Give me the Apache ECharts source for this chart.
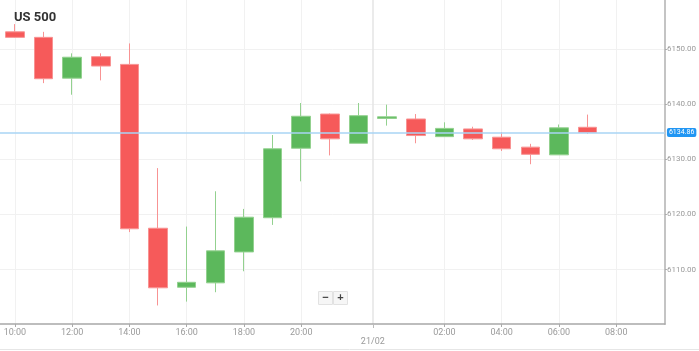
<!DOCTYPE html>
<html>
<head>
<meta charset="utf-8">
<title>US 500</title>
<script src="https://cdn.jsdelivr.net/npm/echarts@6/dist/echarts.min.js"></script>
<style>
  html, body { margin: 0; padding: 0; background: #fff; }
  #main { width: 699px; height: 351px; }
</style>
</head>
<body>
<div id="main"></div>
<script>
// hourly candles, 20/02 10:00 -> 21/02 07:00 (no 23:00 bar)
const hours = ['10:00', '11:00', '12:00', '13:00', '14:00', '15:00', '16:00', '17:00', '18:00', '19:00', '20:00', '21:00', '22:00',
  '00:00', '01:00', '02:00', '03:00', '04:00', '05:00', '06:00', '07:00']
const opens = [6153.1, 6152.1, 6144.7, 6148.6, 6147.2, 6117.5, 6106.8, 6107.6, 6113.2, 6119.4, 6132.0, 6138.2, 6132.9,
  6137.4, 6137.3, 6134.1, 6135.5, 6134.0, 6132.2, 6130.8, 6135.8]
const closes = [6152.1, 6144.6, 6148.5, 6146.9, 6117.4, 6106.7, 6107.7, 6113.4, 6119.5, 6131.9, 6137.8, 6133.7, 6137.9,
  6137.7, 6134.3, 6135.6, 6133.7, 6131.9, 6130.9, 6135.7, 6134.86]
const lows = [6152.0, 6143.8, 6141.7, 6144.3, 6116.8, 6103.5, 6104.2, 6105.9, 6109.7, 6118.1, 6126.0, 6130.7, 6132.9,
  6136.1, 6132.9, 6134.1, 6133.5, 6131.5, 6129.1, 6130.8, 6134.6]
const highs = [6154.5, 6153.1, 6149.2, 6149.2, 6151.0, 6128.4, 6117.8, 6124.2, 6121.0, 6134.4, 6140.2, 6138.3, 6140.2,
  6139.9, 6138.2, 6136.7, 6135.9, 6134.9, 6132.8, 6136.3, 6138.1]

// x tick positions (bar index) and their labels
const tickPos = [0, 2, 4, 6, 8, 10, 15, 17, 19, 21]
const tickLabels = ['10:00', '12:00', '14:00', '16:00', '18:00', '20:00', '02:00', '04:00', '06:00', '08:00']
const dayPos = [12.5]
const dayLabels = ['21/02']
const priceTicks = [6110, 6120, 6130, 6140, 6150]
const lastPrice = 6134.86

const chart = echarts.init(document.getElementById('main'))

const candles = hours.map((h, i) => [i, opens[i], closes[i], lows[i], highs[i]])

const option = {
  animation: false,
  textStyle: { fontFamily: 'Roboto, sans-serif' },
  title: {
    text: 'US 500',
    left: 9,
    top: 6,
    textStyle: { fontSize: 13, fontWeight: 'bold', color: '#333' }
  },
  grid: { left: 0, right: 30, top: 0, bottom: 27 },
  xAxis: [{
    type: 'value',
    min: -0.52,
    max: 22.7,
    position: 'bottom',
    axisLine: { show: true, onZero: false, lineStyle: { color: '#a8a8a8', width: 1.5 } },
    axisTick: { show: true, customValues: tickPos, length: 3, lineStyle: { color: '#aaa' } },
    axisLabel: {
      customValues: tickPos,
      color: '#9a9a9a',
      fontSize: 9,
      margin: 4,
      formatter: v => tickLabels[tickPos.indexOf(v)]
    },
    splitLine: { show: true, lineStyle: { color: '#f1f1f1' } }
  }, {
    type: 'value',
    min: -0.52,
    max: 22.7,
    position: 'bottom',
    axisLine: { show: false, onZero: false },
    axisTick: { show: true, customValues: dayPos, length: 5, lineStyle: { color: '#bbb', type: 'dashed' } },
    axisLabel: {
      customValues: dayPos,
      color: '#9a9a9a',
      fontSize: 9,
      margin: 13,
      formatter: v => dayLabels[dayPos.indexOf(v)]
    },
    splitLine: { show: true, lineStyle: { color: '#e4e4e4', width: 1.5 } }
  }],
  yAxis: {
    type: 'value',
    position: 'right',
    min: 6100.14,
    max: 6158.87,
    axisLine: { show: true, onZero: false, lineStyle: { color: '#c4c4c4', width: 2 } },
    axisTick: { show: true, customValues: priceTicks, length: 2, lineStyle: { color: '#aaa' } },
    axisLabel: {
      customValues: priceTicks,
      color: '#9a9a9a',
      fontSize: 8,
      margin: 2,
      formatter: v => v.toFixed(2)
    },
    splitLine: { show: true, lineStyle: { color: '#f1f1f1' } }
  },
  series: [{
    name: 'US 500',
    type: 'candlestick',
    xAxisIndex: 0,
    barWidth: 19,
    data: candles,
    itemStyle: {
      color: '#5cb85c',
      color0: '#f65a5a',
      borderColor: '#93d18f',
      borderColor0: '#f89393',
      borderWidth: 1
    },
    markLine: {
      silent: true,
      symbol: 'none',
      lineStyle: { color: '#a9d4f4', width: 1.5, type: 'solid' },
      label: {
        position: 'end',
        distance: 2,
        formatter: lastPrice.toFixed(2),
        color: '#fff',
        fontSize: 7,
        backgroundColor: '#2196f3',
        padding: [1, 2, 1, 2],
        borderRadius: 2
      },
      data: [{ yAxis: lastPrice }]
    }
  }],
  graphic: [{
    type: 'group',
    left: 318,
    top: 291,
    children: [{
      type: 'rect',
      shape: { x: 0, y: 0, width: 14, height: 13 },
      style: { fill: '#f6f6f6', stroke: '#e2e2e2' }
    }, {
      type: 'rect',
      shape: { x: 15, y: 0, width: 14, height: 13 },
      style: { fill: '#f6f6f6', stroke: '#e2e2e2' }
    }, {
      type: 'text',
      x: 7, y: 6.5,
      style: { text: '−', fill: '#444', fontSize: 11, fontWeight: 'bold', align: 'center', verticalAlign: 'middle' }
    }, {
      type: 'text',
      x: 22, y: 6.5,
      style: { text: '+', fill: '#444', fontSize: 11, fontWeight: 'bold', align: 'center', verticalAlign: 'middle' }
    }]
  }, {
    type: 'line',
    shape: { x1: 0, y1: 349.5, x2: 699, y2: 349.5 },
    style: { stroke: '#e6e6e6', lineWidth: 1 }
  }]
}

chart.setOption(option)
</script>
</body>
</html>
